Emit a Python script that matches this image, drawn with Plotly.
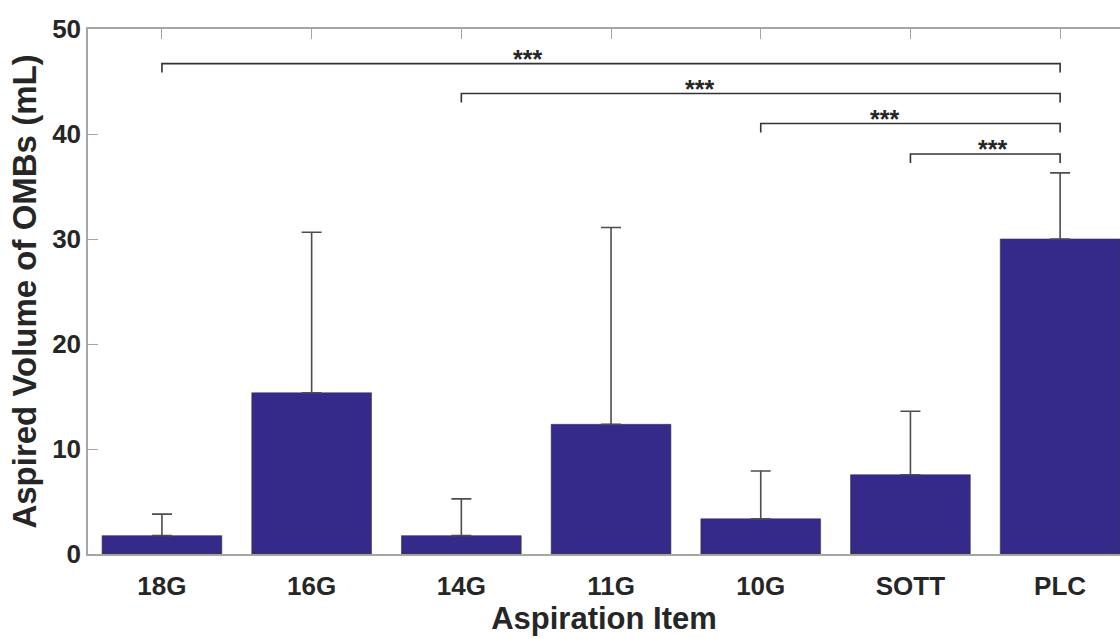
import plotly.graph_objects as go

categories = ["18G", "16G", "14G", "11G", "10G", "SOTT", "PLC"]
mean_volume = [1.75, 15.35, 1.75, 12.35, 3.35, 7.55, 30.0]
sd_volume = [2.05, 15.3, 3.5, 18.75, 4.55, 6.05, 6.3]

bracket_from = ["18G", "14G", "10G", "SOTT"]
bracket_to = ["PLC", "PLC", "PLC", "PLC"]
bracket_height = [46.7, 43.85, 41.0, 38.1]
bracket_label = ["***", "***", "***", "***"]
label_pos = [2.445, 3.59, 4.83, 5.545]

y_ticks = [0, 10, 20, 30, 40, 50]

FONT = "Liberation Sans, Arial, sans-serif"
TXT = "#262626"
AX = "#a6a6a6"

fig = go.Figure()
fig.add_trace(go.Bar(
    x=categories, y=mean_volume, width=0.8,
    marker=dict(color="#35298a", line=dict(color="#3a3a3a", width=0.6)),
    error_y=dict(type="data", array=sd_volume, arrayminus=[0] * len(sd_volume),
                 symmetric=False, color="#4d4d4d", thickness=1.6, width=10),
    showlegend=False,
))
# invisible trace to activate top axis
fig.add_trace(go.Scatter(x=categories, y=mean_volume, xaxis="x2", mode="markers",
                         marker=dict(opacity=0), hoverinfo="skip", showlegend=False))

idx = {c: i for i, c in enumerate(categories)}
tick_len = 0.85
for a, b, h, lab, lx in zip(bracket_from, bracket_to, bracket_height, bracket_label, label_pos):
    xa, xb = idx[a], idx[b]
    fig.add_shape(type="path", xref="x", yref="y",
                  path=f"M {xa},{h - tick_len} L {xa},{h} L {xb},{h} L {xb},{h - tick_len}",
                  line=dict(color="#333333", width=1.6))
    fig.add_annotation(x=lx, y=h, xref="x", yref="y", text=lab, showarrow=False,
                       yanchor="bottom", yshift=-11,
                       font=dict(family=FONT, size=25, color=TXT, weight="bold"))

fig.update_layout(
    width=1120, height=639,
    margin=dict(l=88, r=0, t=29, b=85),
    paper_bgcolor="white", plot_bgcolor="white",
    bargap=0.2,
    xaxis=dict(range=[-0.494, 6.40], showline=True, linecolor=AX, linewidth=1.5,
               ticks="", ticklabelstandoff=8,
               tickfont=dict(family=FONT, size=26, color=TXT, weight="bold"),
               title=dict(text="Aspiration Item", standoff=2,
                          font=dict(family=FONT, size=31, color=TXT, weight="bold")),
               showgrid=False, zeroline=False),
    xaxis2=dict(overlaying="x", side="top", matches="x", showline=True, linecolor=AX,
                linewidth=1.5, ticks="inside", ticklen=10, tickcolor=AX, tickwidth=1.2,
                showticklabels=False, showgrid=False, zeroline=False),
    yaxis=dict(range=[0, 50], tickvals=y_ticks, showline=True, linecolor=AX, linewidth=1.5,
               ticks="inside", ticklen=10, tickcolor=AX, tickwidth=1.2,
               tickfont=dict(family=FONT, size=26, color=TXT, weight="bold"),
               showgrid=False, zeroline=False,
               title=dict(text="Aspired Volume of OMBs (mL)", standoff=6,
                          font=dict(family=FONT, size=33, color=TXT, weight="bold"))),
)

fig.write_html("out.html")
